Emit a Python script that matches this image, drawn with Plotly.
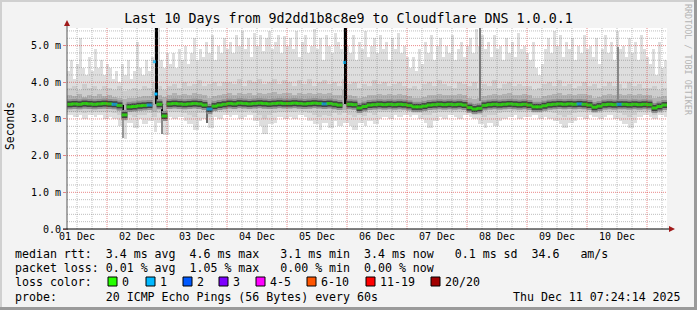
import plotly.graph_objects as go
from datetime import datetime, timedelta

# ---------------- data ----------------
TITLE = "Last 10 Days from 9d2dd1b8c8e9 to Cloudflare DNS 1.0.0.1"
T_START = datetime(2025, 12, 1, 8, 0)
T_END = datetime(2025, 12, 11, 8, 0)
STEP_HOURS = 2          # resolution of the median / inner smoke series
FINE_MINUTES = 72       # resolution of the outer (max) smoke series

day_tick_days = [1, 2, 3, 4, 5, 6, 7, 8, 9, 10]
day_tick_labels = ["01 Dec", "02 Dec", "03 Dec", "04 Dec", "05 Dec",
                   "06 Dec", "07 Dec", "08 Dec", "09 Dec", "10 Dec"]
y_tick_vals = [0, 1, 2, 3, 4, 5]
y_tick_text = ["0.0", "1.0 m", "2.0 m", "3.0 m", "4.0 m", "5.0 m"]
Y_MAX = 5.48

# median rtt per 2h column (ms)
median_ms = [
    3.40, 3.41, 3.40, 3.42, 3.41, 3.40, 3.41, 3.42,
    3.41, 3.40, 3.37, 3.11, 3.33, 3.34, 3.36, 3.37, 3.38, 4.56, 3.40, 3.08,
    3.41, 3.42, 3.41, 3.40, 3.41, 3.42, 3.41, 3.38, 3.27, 3.35, 3.38, 3.40,
    3.42, 3.41, 3.43, 3.42, 3.41, 3.42, 3.43, 3.42, 3.41, 3.42, 3.43, 3.42,
    3.42, 3.43, 3.42, 3.41, 3.42, 3.43, 3.42, 3.41, 3.42, 3.40, 3.38, 4.54,
    3.40, 3.39, 3.30, 3.34, 3.38, 3.39, 3.40, 3.39, 3.40, 3.39, 3.40, 3.39,
    3.37, 3.33, 3.33, 3.35, 3.38, 3.39, 3.40, 3.39, 3.40, 3.39, 3.40, 3.38,
    3.31, 3.27, 3.29, 3.37, 3.39, 3.40, 3.39, 3.40, 3.41, 3.40, 3.39, 3.40,
    3.38, 3.33, 3.33, 3.36, 3.39, 3.40, 3.41, 3.40, 3.41, 3.40, 3.41, 3.40,
    3.38, 3.32, 3.35, 3.39, 3.40, 3.39, 3.40, 3.40, 3.39, 3.40, 3.39, 3.40,
    3.39, 3.30, 3.34, 3.38,
]
# smoke: outermost (max) ping, 72-minute columns
smoke_max_ms = [
    4.3, 4.6, 4.1, 4.5, 5.2, 4.4, 4.2, 4.7, 4.3, 4.9, 4.4, 4.6, 4.2, 4.5,
    4.4, 4.1, 4.3, 4.0, 4.5, 4.2, 4.6, 4.1, 4.3, 5.1, 4.4, 4.2, 4.6, 4.3, 4.7, 5.48, 5.48, 4.6, 4.4, 4.8,
    4.5, 4.8, 4.4, 4.9, 4.6, 5.0, 4.5, 4.8, 5.2, 4.6, 4.9, 4.7, 5.1, 4.8, 5.3, 4.6, 5.0, 4.8, 5.2, 4.9,
    5.1, 4.8, 5.3, 5.0, 5.4, 4.9, 5.2, 4.7, 5.35, 5.0, 5.3, 4.85, 5.2, 5.4, 4.9, 5.1, 5.3, 4.8, 5.25, 5.0,
    5.2, 4.9, 5.4, 4.7, 5.1, 5.3, 4.8, 5.0, 5.45, 4.9, 5.2, 4.6, 5.3, 5.0, 4.8, 5.35, 5.1, 4.9, 5.48, 5.0,
    4.8, 5.3, 4.6, 5.1, 4.9, 5.4, 4.7, 5.0, 5.2, 4.8, 5.3, 4.9, 5.1, 4.6, 5.2, 4.9, 5.35, 4.8, 5.0, 4.7,
    4.4, 4.7, 4.3, 4.9, 4.5, 5.1, 4.8, 5.3, 4.6, 5.0, 5.2, 4.7, 5.0, 4.8, 5.3, 4.6, 4.9, 5.1, 4.7, 5.0,
    5.2, 4.8, 5.45, 5.0, 5.3, 4.9, 5.1, 4.7, 5.3, 4.9, 5.0, 4.6, 5.2, 4.8, 5.1, 4.7, 5.35, 4.9, 5.0, 4.8,
    4.6, 5.1, 4.4, 4.2, 4.5, 4.9, 5.2, 4.8, 5.4, 5.0, 5.3, 4.7, 5.1, 4.9, 5.2, 4.6, 5.0, 4.8, 5.3, 4.9,
    5.0, 4.7, 5.2, 4.5, 4.9, 5.3, 4.8, 5.1, 4.6, 5.4, 4.9, 5.0, 4.7, 5.2, 4.8, 5.1, 4.6, 5.3, 4.9, 4.7,
    4.5, 4.9, 4.2, 5.1, 4.4, 4.6,
]
# smoke: upper outer band
smoke_hi_ms = [
    3.85, 3.90, 3.80, 3.95, 3.85, 3.90, 3.80, 3.90,
    3.85, 3.80, 3.90, 3.75, 3.80, 3.85, 3.80, 3.90, 3.85, 4.00, 3.90, 3.80,
    3.90, 3.95, 3.85, 4.00, 3.90, 3.95, 4.05, 3.90, 3.95, 4.00, 3.90, 4.00,
    4.00, 3.95, 4.10, 3.90, 4.05, 4.00, 4.10, 3.95, 4.00, 4.10, 3.95, 4.05,
    4.00, 3.90, 4.05, 3.95, 4.10, 3.90, 4.00, 4.05, 3.95, 4.00, 3.90, 4.10,
    3.95, 4.00, 3.85, 3.95, 3.90, 4.05, 3.95, 4.00, 3.90, 3.95, 4.00, 3.90,
    3.85, 3.90, 3.80, 3.95, 4.00, 3.90, 4.05, 3.95, 3.90, 3.85, 4.00, 3.95,
    3.90, 4.00, 3.85, 3.95, 3.90, 4.05, 3.85, 3.95, 4.00, 3.90, 3.95, 3.90,
    3.90, 3.80, 3.85, 3.95, 4.00, 3.90, 4.05, 3.90, 3.95, 3.85, 3.90, 4.00,
    3.90, 3.95, 3.85, 3.90, 4.00, 3.90, 3.95, 3.85, 4.00, 3.90, 3.95, 3.85,
    3.85, 3.90, 3.80, 3.85,
]
# smoke: upper core band
smoke_core_hi_ms = [
    3.65, 3.62, 3.68, 3.60, 3.66, 3.63, 3.67, 3.62,
    3.64, 3.60, 3.58, 3.55, 3.56, 3.58, 3.60, 3.62, 3.63, 3.75, 3.65, 3.60,
    3.66, 3.70, 3.64, 3.68, 3.65, 3.70, 3.67, 3.64, 3.58, 3.62, 3.66, 3.68,
    3.70, 3.66, 3.72, 3.68, 3.70, 3.65, 3.72, 3.68, 3.70, 3.74, 3.67, 3.70,
    3.70, 3.66, 3.72, 3.68, 3.70, 3.67, 3.72, 3.69, 3.70, 3.66, 3.65, 3.80,
    3.66, 3.62, 3.56, 3.60, 3.64, 3.66, 3.68, 3.65, 3.67, 3.64, 3.68, 3.66,
    3.62, 3.58, 3.58, 3.60, 3.65, 3.66, 3.68, 3.64, 3.66, 3.65, 3.67, 3.64,
    3.58, 3.55, 3.56, 3.62, 3.66, 3.68, 3.65, 3.67, 3.70, 3.66, 3.65, 3.67,
    3.64, 3.58, 3.58, 3.62, 3.66, 3.68, 3.70, 3.66, 3.68, 3.65, 3.67, 3.68,
    3.65, 3.58, 3.60, 3.65, 3.68, 3.66, 3.68, 3.65, 3.67, 3.66, 3.68, 3.64,
    3.64, 3.56, 3.60, 3.62,
]
# smoke: lower core band
smoke_core_lo_ms = [
    3.28, 3.27, 3.29, 3.27, 3.28, 3.27, 3.28, 3.27,
    3.28, 3.26, 3.22, 3.05, 3.20, 3.22, 3.24, 3.25, 3.26, 3.20, 3.27, 3.00,
    3.28, 3.29, 3.28, 3.27, 3.28, 3.29, 3.28, 3.25, 3.15, 3.22, 3.26, 3.28,
    3.29, 3.28, 3.30, 3.29, 3.28, 3.29, 3.30, 3.28, 3.29, 3.28, 3.30, 3.29,
    3.29, 3.30, 3.28, 3.29, 3.28, 3.30, 3.29, 3.28, 3.29, 3.27, 3.28, 3.25,
    3.27, 3.25, 3.18, 3.22, 3.25, 3.27, 3.28, 3.27, 3.28, 3.27, 3.28, 3.27,
    3.25, 3.22, 3.22, 3.24, 3.26, 3.27, 3.28, 3.27, 3.28, 3.27, 3.28, 3.26,
    3.20, 3.17, 3.18, 3.24, 3.27, 3.28, 3.27, 3.28, 3.29, 3.28, 3.27, 3.28,
    3.26, 3.22, 3.22, 3.25, 3.27, 3.28, 3.29, 3.28, 3.29, 3.28, 3.29, 3.28,
    3.26, 3.21, 3.24, 3.27, 3.28, 3.27, 3.28, 3.28, 3.27, 3.28, 3.27, 3.28,
    3.27, 3.19, 3.23, 3.26,
]
# smoke: lower outer band
smoke_lo_ms = [
    3.20, 3.18, 3.20, 3.17, 3.20, 3.19, 3.20, 3.18,
    3.20, 3.17, 3.10, 2.95, 3.10, 3.05, 3.12, 3.10, 3.15, 3.05, 3.15, 3.00,
    3.20, 3.18, 3.20, 3.15, 3.10, 3.05, 3.15, 3.15, 3.05, 3.18, 3.20, 3.20,
    3.20, 3.22, 3.20, 3.20, 3.22, 3.15, 3.10, 3.00, 3.12, 3.15, 3.20, 3.20,
    3.20, 3.18, 3.22, 3.20, 3.15, 3.10, 3.05, 3.12, 3.08, 3.15, 3.10, 3.15,
    3.10, 3.05, 3.10, 3.08, 3.15, 3.12, 3.18, 3.20, 3.18, 3.20, 3.20, 3.22,
    3.18, 3.15, 3.15, 3.12, 3.10, 3.15, 3.20, 3.18, 3.20, 3.20, 3.18, 3.20,
    3.15, 3.10, 3.10, 3.05, 3.12, 3.10, 3.15, 3.18, 3.20, 3.22, 3.18, 3.20,
    3.20, 3.15, 3.15, 3.18, 3.18, 3.15, 3.12, 3.05, 3.12, 3.15, 3.20, 3.18,
    3.20, 3.15, 3.15, 3.18, 3.20, 3.18, 3.15, 3.10, 3.05, 3.12, 3.18, 3.20,
    3.18, 3.12, 3.15, 3.18,
]
# smoke: outermost (min) ping
smoke_min_ms = [
    3.10, 3.05, 3.10, 3.00, 3.10, 3.05, 3.10, 3.00,
    3.05, 3.00, 2.80, 2.45, 2.90, 2.75, 3.00, 2.85, 2.95, 2.65, 2.90, 2.55,
    3.05, 3.00, 3.05, 2.95, 2.85, 2.70, 2.95, 3.00, 2.75, 3.05, 3.00, 3.10,
    3.05, 3.10, 3.00, 3.05, 3.10, 2.95, 2.80, 2.60, 2.85, 2.90, 3.05, 3.00,
    3.05, 3.00, 3.10, 3.05, 2.95, 2.85, 2.70, 2.90, 2.75, 2.95, 2.80, 2.90,
    2.80, 2.70, 2.90, 2.80, 2.95, 2.85, 3.00, 3.05, 3.00, 3.10, 3.05, 3.10,
    3.05, 3.10, 3.00, 2.90, 2.75, 2.95, 3.05, 3.00, 3.10, 3.05, 3.00, 3.10,
    3.05, 3.00, 2.85, 2.75, 2.90, 2.80, 2.95, 3.00, 3.05, 3.10, 3.00, 3.05,
    3.05, 3.10, 3.00, 3.05, 3.00, 2.95, 2.85, 2.75, 2.90, 2.95, 3.05, 3.00,
    3.10, 3.05, 3.00, 3.05, 3.10, 3.00, 2.95, 2.85, 2.75, 2.90, 3.05, 3.10,
    3.05, 3.00, 3.10, 3.05,
]
# packet loss (pings lost out of 20) per 2h column; all others 0
loss_nonzero = {9: 1, 16: 1, 17: 1, 28: 1, 51: 1, 55: 1, 102: 1, 110: 1}

# an extra median sample inside the 02 Dec burst
extra_hours = [35.6]
extra_ms = [3.68]
extra_loss = [1]

# isolated spikes (hours since start, low ms, high ms)
spike_hours = [22.4, 22.4, 35.6, 38.0, 38.0, 56.0, 111.2, 165.2, 220.4]
spike_lo = [2.48, 3.11, 3.40, 2.60, 3.08, 2.90, 3.40, 3.50, 3.50]
spike_hi = [3.11, 3.38, 5.48, 3.08, 3.40, 3.30, 5.48, 5.48, 4.95]
spike_shade = ["#9a9a9a", "#000000", "#000000", "#8a8a8a", "#000000",
               "#6a6a6a", "#000000", "#7a7a7a", "#8a8a8a"]
spike_px = [2, 2, 3, 2, 2, 2, 3, 1, 1]

LOSS_COLORS = {0: "#26ff00", 1: "#00b8ff", 2: "#0059ff", 3: "#7e00ff",
               4: "#ff00ff", 6: "#ff5500", 11: "#ff0000", 20: "#a10000"}
loss_legend = [("0", "#26ff00"), ("1", "#00b8ff"), ("2", "#0059ff"),
               ("3", "#7e00ff"), ("4-5", "#ff00ff"), ("6-10", "#ff5500"),
               ("11-19", "#ff0000"), ("20/20", "#a10000")]

line_rtt = "median rtt:  3.4 ms avg  4.6 ms max   3.1 ms min  3.4 ms now   0.1 ms sd  34.6   am/s"
line_loss = "packet loss: 0.01 % avg  1.05 % max   0.00 % min  0.00 % now"
line_lossc = "loss color:"
line_probe = "probe:       20 ICMP Echo Pings (56 Bytes) every 60s"
stamp = "Thu Dec 11 07:24:14 2025"
watermark = "RRDTOOL / TOBI OETIKER"

# ---------------- geometry helpers ----------------
W, H = 697, 310
PL, PR, PT, PB = 67, 667, 28, 229
FONT = "DejaVu Sans Mono"


def px(x):
    return (x - PL) / (PR - PL)


def py(y):
    return (PB - y) / (PB - PT)


N = len(median_ms)
for arr in (smoke_hi_ms, smoke_core_hi_ms, smoke_core_lo_ms, smoke_lo_ms, smoke_min_ms):
    assert len(arr) == N, len(arr)

col_t = [T_START + timedelta(hours=STEP_HOURS * i + STEP_HOURS / 2) for i in range(N)]
col_w = STEP_HOURS * 3600 * 1000
NF = len(smoke_max_ms)
fine_t = [T_START + timedelta(minutes=FINE_MINUTES * j + FINE_MINUTES / 2) for j in range(NF)]
fine_w = FINE_MINUTES * 60 * 1000
# lower edge of the outer smoke on the fine grid = min ping of the enclosing 2h column
fine_lo = [smoke_min_ms[min(N - 1, int(FINE_MINUTES * j / 60 // STEP_HOURS))] for j in range(NF)]
loss = [loss_nonzero.get(i, 0) for i in range(N)]
# a median outside the core smoke band (burst) is shown as a bare dot
outside = [not (lo <= m <= hi) for m, lo, hi in zip(median_ms, smoke_core_lo_ms, smoke_core_hi_ms)]


def loss_color(l):
    key = max(k for k in LOSS_COLORS if k <= l)
    return LOSS_COLORS[key]


fig = go.Figure()


def band(t, lo, hi, color, w):
    fig.add_trace(go.Bar(
        x=t, base=lo, y=[h - l for h, l in zip(hi, lo)],
        width=w, marker=dict(color=color, line=dict(width=0)),
        hoverinfo="skip"))


band(fine_t, fine_lo, smoke_max_ms, "#dedede", fine_w)
band(col_t, smoke_lo_ms, smoke_hi_ms, "#cdcdcd", col_w)
band(col_t, smoke_core_lo_ms, smoke_core_hi_ms, "#b2b2b2", col_w)

hours_per_px = 240 / (PR - PL)
fig.add_trace(go.Bar(
    x=[T_START + timedelta(hours=h) for h in spike_hours],
    base=spike_lo, y=[h - l for h, l in zip(spike_hi, spike_lo)],
    width=[p * hours_per_px * 3600 * 1000 for p in spike_px],
    marker=dict(color=spike_shade, line=dict(width=0)), hoverinfo="skip"))

# median with dark halo
for w, c in ((10, "#909090"), (6, "#404040")):
    hc = [("rgba(0,0,0,0)" if (o and l > 0) else c) for o, l in zip(outside, loss)]
    fig.add_trace(go.Scatter(
        x=col_t, y=median_ms, mode="markers", hoverinfo="skip",
        marker=dict(symbol="line-ew", size=4.2, color=hc, line=dict(width=w, color=hc))))
mc = [loss_color(l) for l in loss]
msz = [2.2 if (o and l > 0) else 4.2 for o, l in zip(outside, loss)]
fig.add_trace(go.Scatter(
    x=col_t, y=median_ms, mode="markers", hoverinfo="skip",
    marker=dict(symbol="line-ew", size=msz, color=mc, line=dict(width=3, color=mc))))
ec = [loss_color(l) for l in extra_loss]
fig.add_trace(go.Scatter(
    x=[T_START + timedelta(hours=h) for h in extra_hours], y=extra_ms,
    mode="markers", hoverinfo="skip",
    marker=dict(symbol="square", size=3, color=ec, line=dict(width=0))))

# ---------------- grid (drawn above the smoke, like rrdtool) ----------------
shapes = []
MINOR = "rgba(110,110,110,0.45)"
MAJOR = "rgba(215,40,40,0.55)"
DASH = "1px,1px"
t = datetime(2025, 12, 1, 0, 0)
while t <= T_END:
    if t >= T_START:
        col = MAJOR if t.hour == 0 else MINOR
        shapes.append(dict(type="line", xref="x", yref="paper", x0=t, x1=t, y0=0, y1=1,
                           line=dict(color=col, width=1, dash=DASH), layer="above"))
    t += timedelta(hours=6)
k = 1
while k * 0.2 < Y_MAX:
    val = round(k * 0.2, 1)
    col = MAJOR if k % 5 == 0 else MINOR
    shapes.append(dict(type="line", xref="paper", yref="y", x0=0, x1=1, y0=val, y1=val,
                       line=dict(color=col, width=1, dash=DASH), layer="above"))
    k += 1

# axes lines and arrows
shapes.append(dict(type="line", xref="paper", yref="paper", x0=px(67), x1=px(67),
                   y0=py(230), y1=py(25), line=dict(color="#555555", width=1), layer="above"))
shapes.append(dict(type="line", xref="paper", yref="paper", x0=px(63), x1=px(670),
                   y0=py(229), y1=py(229), line=dict(color="#000000", width=1), layer="above"))
shapes.append(dict(type="path", xref="paper", yref="paper", layer="above",
                   path=f"M {px(64)} {py(26)} L {px(70)} {py(26)} L {px(67)} {py(20)} Z",
                   fillcolor="#a01a1a", line=dict(width=0)))
shapes.append(dict(type="path", xref="paper", yref="paper", layer="above",
                   path=f"M {px(669)} {py(226)} L {px(669)} {py(232)} L {px(675)} {py(229)} Z",
                   fillcolor="#a01a1a", line=dict(width=0)))
# image frame
shapes.append(dict(type="line", xref="paper", yref="paper", x0=px(0), x1=px(697),
                   y0=py(1), y1=py(1), line=dict(color="#d0d0d0", width=2)))
shapes.append(dict(type="line", xref="paper", yref="paper", x0=px(1), x1=px(1),
                   y0=py(0), y1=py(310), line=dict(color="#d0d0d0", width=2)))
shapes.append(dict(type="line", xref="paper", yref="paper", x0=px(0), x1=px(697),
                   y0=py(308.5), y1=py(308.5), line=dict(color="#9a9a9a", width=3)))
shapes.append(dict(type="line", xref="paper", yref="paper", x0=px(695.5), x1=px(695.5),
                   y0=py(0), y1=py(310), line=dict(color="#9a9a9a", width=3)))

# loss colour boxes
box_x = [108, 146, 183, 219, 256, 307, 366, 431]
lab_x = [123, 161, 198, 234, 271, 322, 381, 446]
for (lab, colr), bx in zip(loss_legend, box_x):
    shapes.append(dict(type="rect", xref="paper", yref="paper",
                       x0=px(bx), x1=px(bx + 9), y0=py(286), y1=py(277),
                       fillcolor=colr, line=dict(color="#000000", width=1)))

NB = "\u00a0"
ann = []


def text(x, y, s, size=11.6, color="#000000", angle=0, xa="left"):
    ann.append(dict(xref="paper", yref="paper", x=px(x), y=py(y), text=s.replace(" ", NB),
                    showarrow=False, xanchor=xa, yanchor="middle",
                    textangle=angle, borderpad=0,
                    font=dict(family=FONT, size=size, color=color)))


text(14, 254, line_rtt)
text(14, 268, line_loss)
text(14, 282, line_lossc)
for (lab, colr), lx in zip(loss_legend, lab_x):
    text(lx - 2, 282, lab)
text(14, 297, line_probe)
text(682, 297, stamp, xa="right")
text(10, 126, "Seconds", size=11.4, angle=-90, xa="center")
text(688, 60, watermark, size=8.4, angle=90, color="#b4b4b4", xa="center")

fig.update_layout(
    width=W, height=H,
    margin=dict(l=PL, r=W - PR, t=PT, b=H - PB),
    paper_bgcolor="#f3f3f3", plot_bgcolor="#ffffff",
    barmode="overlay", bargap=0, showlegend=False,
    font=dict(family=FONT, size=10, color="#000000"),
    title=dict(text=TITLE, x=0.5, xref="container", xanchor="center",
               y=1 - 18 / H, yref="container", yanchor="middle",
               font=dict(family=FONT, size=13.3, color="#000000")),
    xaxis=dict(type="date", range=[T_START, T_END], tickmode="array",
               tickvals=[datetime(2025, 12, d, 12) for d in day_tick_days],
               ticktext=day_tick_labels, showgrid=False, zeroline=False,
               showline=False, ticks="", tickfont=dict(size=10, family=FONT)),
    yaxis=dict(range=[0, Y_MAX], tickmode="array", tickvals=y_tick_vals,
               ticktext=y_tick_text, showgrid=False, zeroline=False, showline=False,
               ticks="outside", ticklen=3, tickcolor="rgba(215,40,40,0.55)",
               tickfont=dict(size=10, family=FONT)),
    shapes=shapes, annotations=ann,
)

fig.write_html("out.html")
